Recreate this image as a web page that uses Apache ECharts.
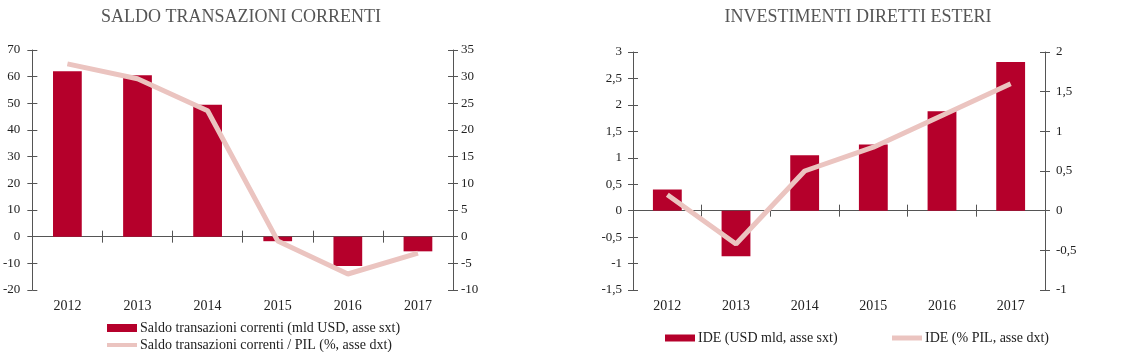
<!DOCTYPE html>
<html>
<head>
<meta charset="utf-8">
<script src="https://cdn.jsdelivr.net/npm/echarts@6/dist/echarts.min.js"></script>
<style>
  html, body { margin: 0; padding: 0; background: #fff; }
  #chart { width: 1125px; height: 352px; }
</style>
</head>
<body>
<div id="chart"></div>
<script>
// dati
var anni = ['2012', '2013', '2014', '2015', '2016', '2017'];
var saldoUsd = [62, 60.5, 49.5, -1.7, -11, -5.5];
var saldoPil = [32.4, 29.6, 23.6, -0.8, -7, -3.1];
var ideUsd = [0.4, -0.86, 1.05, 1.25, 1.88, 2.81];
var idePil = [0.2, -0.42, 0.5, 0.8, 1.2, 1.6];

var rosso = '#b5002b';
var rosa = '#ebc4c0';
var grigio = '#555';
var font = 'Liberation Serif';

function virgola(v) { return String(v).replace('.', ','); }

// asse delle etichette in basso + asse sullo zero con tacche incrociate
function assiX(grid) {
    return [
        { type: 'category', gridIndex: grid, data: anni, position: 'bottom',
          axisLine: { show: false, onZero: false }, axisTick: { show: false },
          axisLabel: { fontFamily: font, fontSize: 14, color: '#222', margin: 9 } },
        { type: 'category', gridIndex: grid, data: anni, position: 'bottom',
          axisLine: { show: true, onZero: true, lineStyle: { color: grigio } },
          axisTick: { show: true, interval: 0, length: 6, lineStyle: { color: grigio } },
          axisLabel: { show: false, interval: 0 } },
        { type: 'category', gridIndex: grid, data: anni, position: 'bottom',
          axisLine: { show: false, onZero: true },
          axisTick: { show: true, interval: 0, inside: true, length: 6, lineStyle: { color: grigio } },
          axisLabel: { show: false, interval: 0 } }
    ];
}

function assiY(grid, pos, min, max, step, margin) {
    return [
        { type: 'value', gridIndex: grid, position: pos, min: min, max: max, interval: step,
          splitLine: { show: false },
          axisLine: { show: true, lineStyle: { color: grigio } },
          axisTick: { show: true, length: 5, lineStyle: { color: grigio } },
          axisLabel: { fontFamily: font, fontSize: 13, color: '#222', margin: margin, formatter: virgola } },
        { type: 'value', gridIndex: grid, position: pos, min: min, max: max, interval: step,
          splitLine: { show: false }, axisLine: { show: false },
          axisTick: { show: true, inside: true, length: 5, lineStyle: { color: grigio } },
          axisLabel: { show: false } }
    ];
}

function legenda(nome, h, left, top) {
    return {
        data: [{ name: nome, icon: 'rect' }], left: left, top: top,
        itemWidth: 30, itemHeight: h, itemGap: 0,
        textStyle: { fontFamily: font, fontSize: 14, color: '#222', padding: [0, 0, 0, -2] }
    };
}

var chart = echarts.init(document.getElementById('chart'));

var option = {
    animation: false,
    title: [
        { text: 'SALDO TRANSAZIONI CORRENTI', left: 236, top: 3, textAlign: 'center',
          textStyle: { fontFamily: font, fontSize: 18, fontWeight: 'normal', color: grigio } },
        { text: 'INVESTIMENTI DIRETTI ESTERI', left: 853, top: 3, textAlign: 'center',
          textStyle: { fontFamily: font, fontSize: 18, fontWeight: 'normal', color: grigio } }
    ],
    legend: [
        legenda('Saldo transazioni correnti (mld USD, asse sxt)', 8, 102, 316),
        legenda('Saldo transazioni correnti / PIL (%, asse dxt)', 4, 102, 333),
        legenda('IDE (USD mld, asse sxt)', 7, 660, 326),
        legenda('IDE (% PIL, asse dxt)', 5, 887, 326)
    ],
    grid: [
        { left: 32, right: 672, top: 50, bottom: 62 },
        { left: 633, right: 80, top: 52, bottom: 62 }
    ],
    xAxis: assiX(0).concat(assiX(1)),
    yAxis: [].concat(
        assiY(0, 'left', -20, 70, 10, 12),
        assiY(0, 'right', -10, 35, 5, 8),
        assiY(1, 'left', -1.5, 3, 0.5, 11),
        assiY(1, 'right', -1, 2, 0.5, 11)
    ),
    series: [
        { name: 'Saldo transazioni correnti (mld USD, asse sxt)', type: 'bar',
          xAxisIndex: 0, yAxisIndex: 0, data: saldoUsd, barWidth: '41%',
          itemStyle: { color: rosso } },
        { name: 'Saldo transazioni correnti / PIL (%, asse dxt)', type: 'line',
          xAxisIndex: 0, yAxisIndex: 2, data: saldoPil, showSymbol: false,
          lineStyle: { color: rosa, width: 5 }, itemStyle: { color: rosa } },
        { name: 'IDE (USD mld, asse sxt)', type: 'bar',
          xAxisIndex: 3, yAxisIndex: 4, data: ideUsd, barWidth: '42%',
          itemStyle: { color: rosso } },
        { name: 'IDE (% PIL, asse dxt)', type: 'line',
          xAxisIndex: 3, yAxisIndex: 6, data: idePil, showSymbol: false,
          lineStyle: { color: rosa, width: 5 }, itemStyle: { color: rosa } }
    ]
};

chart.setOption(option);
</script>
</body>
</html>
